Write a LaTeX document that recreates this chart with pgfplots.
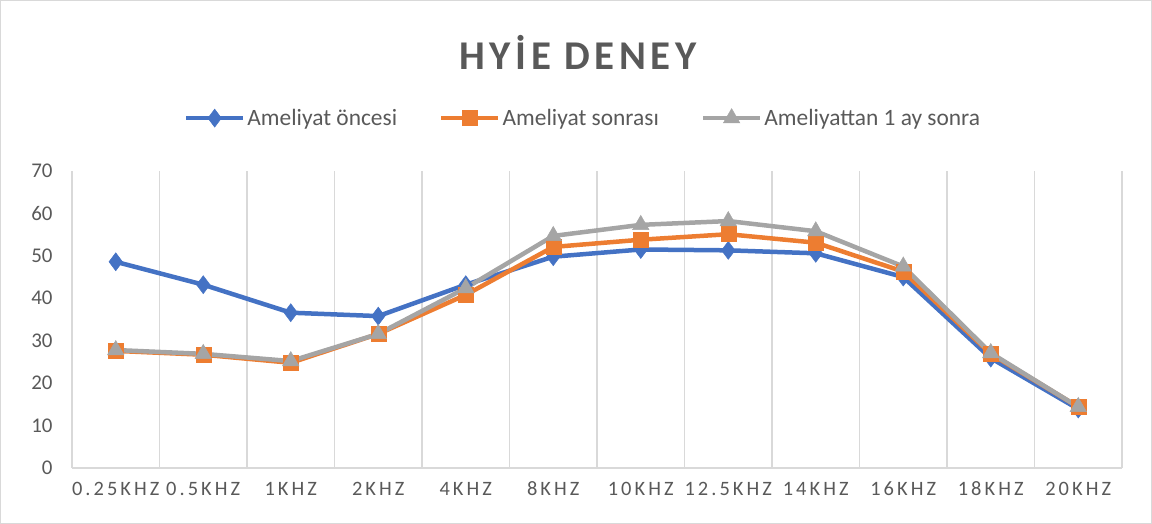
\documentclass[border=0pt]{standalone}
\usepackage{pgfplots}
\pgfplotsset{compat=1.18}
\usepackage{fontspec}
\setmainfont{Carlito}
\newfontfamily\tickfont[LetterSpace=15]{Carlito}
\newfontfamily\titlefont[LetterSpace=11]{Carlito}
\definecolor{cblue}{HTML}{4472C4}
\definecolor{corange}{HTML}{ED7D31}
\definecolor{cgrey}{HTML}{A5A5A5}
\definecolor{ctext}{HTML}{595959}
\definecolor{cgrid}{HTML}{D9D9D9}
\begin{document}
\begin{tikzpicture}[x=1bp,y=1bp]
\useasboundingbox (0,0) rectangle (1152,524);
\draw[color=cgrid, line width=1bp] (0.5,0.5) rectangle (1151.5,523.5);
\node[font=\titlefont\bfseries\fontsize{41}{48}\selectfont, text=ctext] at (578,472) {HYİE DENEY};
\begin{axis}[
  at={(72bp,56bp)}, anchor=south west,
  scale only axis, width=1050bp, height=297bp,
  xmin=-0.5, xmax=11.5, ymin=0, ymax=70,
  ytick={0,10,...,70},
  xtick={0,...,11},
  xticklabels={0.25KHZ,0.5KHZ,1KHZ,2KHZ,4KHZ,8KHZ,10KHZ,12.5KHZ,14KHZ,16KHZ,18KHZ,20KHZ},
  minor xtick={-0.5,0.5,...,11.5},
  xminorgrids,
  minor grid style={color=cgrid, line width=1.5bp},
  axis lines*=left,
  x axis line style={color=cgrid, line width=1.5bp, -},
  y axis line style={draw=none},
  major tick length=0pt, minor tick length=0pt,
  /pgf/number format/assume math mode=true,
  xticklabel style={font=\tickfont\fontsize{20.5}{24}\selectfont, text=ctext, text height=14bp, text depth=0pt, yshift=-10bp},
  yticklabel style={font=\fontsize{21}{25}\selectfont, text=ctext, xshift=-16bp},
  legend columns=3,
  legend style={at={(0.4867,1.178)}, anchor=center, draw=none, fill=none,
    font=\fontsize{23.5}{28}\selectfont, text=ctext,
    /tikz/every even column/.append style={column sep=40bp},
    inner sep=0pt},
  legend image code/.code={\draw[mark repeat=2,mark phase=2,#1] plot coordinates {(0bp,0bp) (28.5bp,0bp) (57bp,0bp)};},
  every axis plot/.append style={line width=4.5bp},
  clip=false,
]
\addplot[color=cblue, mark=diamond*, mark size=9bp, mark options={solid, line width=0.5bp, fill=cblue}]
  coordinates {(0,48.6) (1,43.2) (2,36.6) (3,35.8) (4,43.2) (5,49.8) (6,51.5) (7,51.3) (8,50.6) (9,45.0) (10,25.9) (11,13.9)};
\addlegendentry{Ameliyat öncesi}
\addplot[color=corange, mark=square*, mark size=7.5bp, mark options={solid, line width=0.5bp, fill=corange}]
  coordinates {(0,27.6) (1,26.7) (2,24.8) (3,31.6) (4,40.8) (5,52.1) (6,53.8) (7,55.1) (8,53.1) (9,46.3) (10,26.9) (11,14.4)};
\addlegendentry{Ameliyat sonrası}
\addplot[color=cgrey, mark=triangle*, mark size=9.5bp, mark options={solid, line width=0.5bp, fill=cgrey}]
  coordinates {(0,27.8) (1,26.9) (2,25.2) (3,31.6) (4,42.4) (5,54.7) (6,57.3) (7,58.2) (8,55.8) (9,47.5) (10,27.1) (11,14.4)};
\addlegendentry{Ameliyattan 1 ay sonra}
\end{axis}
\end{tikzpicture}
\end{document}
